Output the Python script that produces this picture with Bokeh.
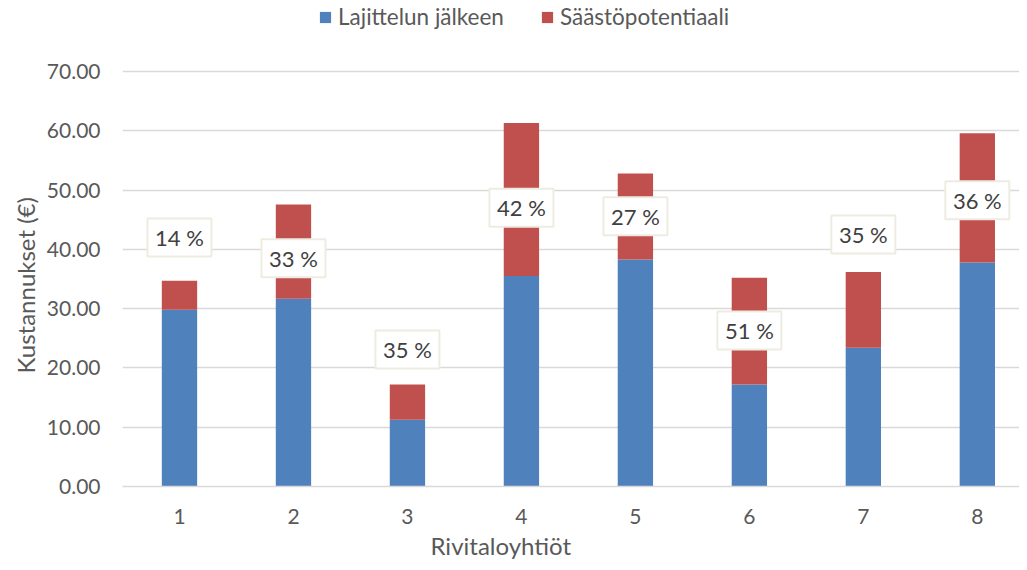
from bokeh.plotting import figure
from bokeh.models import (ColumnDataSource, FixedTicker, NumeralTickFormatter, Legend,
                          LegendItem, Title, Range1d)
from bokeh.core.properties import value
from bokeh.embed import file_html
from bokeh.resources import INLINE

# ---- data ----
groups = [1, 2, 3, 4, 5, 6, 7, 8]
group_labels = ["1", "2", "3", "4", "5", "6", "7", "8"]
after_sorting = [29.8, 31.65, 11.25, 35.5, 38.3, 17.2, 23.4, 37.8]      # Lajittelun jälkeen
savings = [4.9, 15.9, 5.95, 25.8, 14.5, 18.0, 12.8, 21.8]              # Säästöpotentiaali
pct_text = ["14 %", "33 %", "35 %", "42 %", "27 %", "51 %", "35 %", "36 %"]
pct_label_y = [42.0, 38.5, 23.1, 47.0, 45.6, 26.3, 42.5, 48.3]
y_ticks = [0, 10, 20, 30, 40, 50, 60, 70]

FONT = "Lato"
GREY = "#595959"
BLUE = "#4F81BD"
RED = "#C0504D"

source = ColumnDataSource(dict(x=groups, a=after_sorting, s=savings,
                               pct=pct_text, ly=pct_label_y))

# frame spans the top of the canvas so that the legend (inside the frame) sits at the top
p = figure(width=1019, height=562, output_backend="svg", toolbar_location=None,
           x_range=Range1d(0.5, 8.37), y_range=Range1d(0, 81.98),
           min_border_left=122, min_border_right=0, min_border_top=0, min_border_bottom=76)
p.outline_line_color = None
p.background_fill_color = "white"
p.border_fill_color = "white"

rs = p.vbar_stack(["a", "s"], x="x", width=0.31, color=[BLUE, RED], source=source,
                  line_color=None)

# axes
p.xaxis.ticker = FixedTicker(ticks=groups)
p.xaxis.major_label_overrides = {g: l for g, l in zip(groups, group_labels)}
p.yaxis.ticker = FixedTicker(ticks=y_ticks)
p.yaxis.formatter = NumeralTickFormatter(format="0.00")
for ax in (p.xaxis[0], p.yaxis[0]):
    ax.major_tick_line_color = None
    ax.minor_tick_line_color = None
    ax.major_label_text_font = FONT
    ax.major_label_text_font_size = "21px"
    ax.major_label_text_color = GREY
p.xaxis.axis_line_color = "#D9D9D9"
p.xaxis.axis_line_width = 1.5
p.yaxis.axis_line_color = None
p.xaxis.major_label_standoff = 16
p.yaxis.major_label_standoff = 16

p.xgrid.grid_line_color = None
p.ygrid.grid_line_color = "#D9D9D9"
p.ygrid.grid_line_width = 1.5

# axis titles
p.add_layout(Title(text="Rivitaloyhtiöt", align="left", offset=308, text_font=FONT,
                   text_font_size="24px", text_color=GREY, text_font_style="normal",
                   standoff=4), "below")
p.add_layout(Title(text="Kustannukset (€)", align="left", offset=113, text_font=FONT,
                   text_font_size="24px", text_color=GREY, text_font_style="normal",
                   standoff=8), "left")

# percentage labels (boxed)
p.rect(x="x", y="ly", width=64, height=38, width_units="screen", height_units="screen",
       source=source, fill_color="white", line_color="#EEECE1", line_width=2)
p.text(x="x", y="ly", text="pct", source=source, text_align="center",
       text_baseline="middle", text_font=value(FONT), text_font_size="22px",
       text_color="#404040")

legend = Legend(items=[LegendItem(label="Lajittelun jälkeen", renderers=[rs[0]]),
                       LegendItem(label="Säästöpotentiaali", renderers=[rs[1]])],
                orientation="horizontal", location=(196, 456),
                padding=0, margin=0, spacing=36, label_standoff=6,
                glyph_width=14, glyph_height=14,
                label_text_font=FONT, label_text_font_size="22.5px", label_text_color=GREY,
                background_fill_alpha=0, border_line_color=None)
p.add_layout(legend, "center")

open("out.html", "w").write(file_html(p, INLINE))
